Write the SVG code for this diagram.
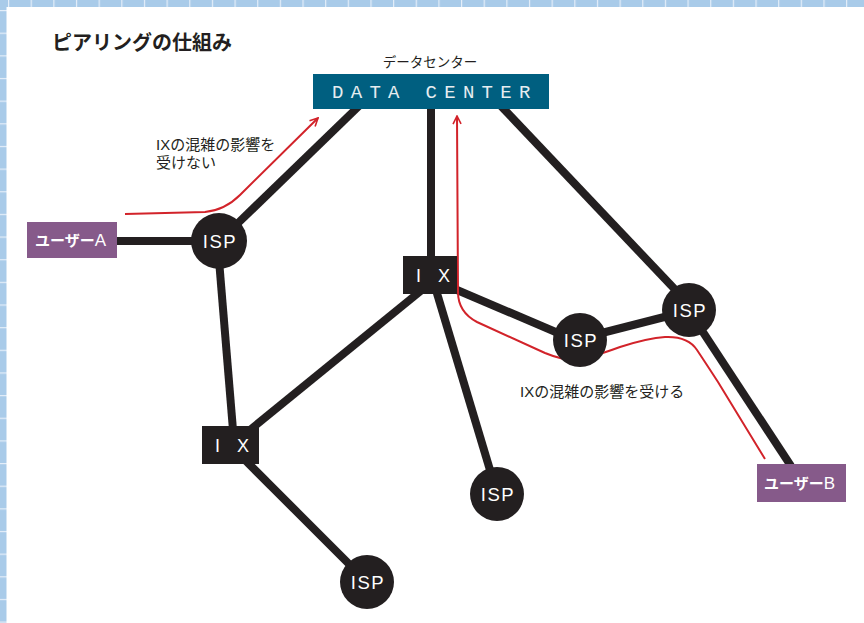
<svg xmlns="http://www.w3.org/2000/svg" width="864" height="623" viewBox="0 0 864 623">
<style>
.bg{fill:#ffffff}
.strip{fill:url(#gridH)}
.stripV{fill:url(#gridV)}
.link{stroke:#231f20;stroke-width:8;fill:none}
.route{stroke:#d2232a;stroke-width:2;fill:none}
.isp{fill:#231f20}
.ix{fill:#231f20}
.user{fill:#865a8a}
.dc{fill:#005f80}
.lbl{font-family:"Liberation Sans","Noto Sans CJK JP",sans-serif;fill:#231f20}
.wt{font-family:"Liberation Sans","Noto Sans CJK JP",sans-serif;fill:#ffffff}
</style>
<defs>
<pattern id="gridH" patternUnits="userSpaceOnUse" x="8" y="0" width="22.65" height="7">
<rect width="22.65" height="7" fill="#a9cbe9"/>
<rect width="1.2" height="7" fill="#e4eef9"/>
</pattern>
<pattern id="gridV" patternUnits="userSpaceOnUse" x="0" y="10" width="7" height="22.65">
<rect width="7" height="22.65" fill="#a9cbe9"/>
<rect width="7" height="1.2" fill="#e4eef9"/>
</pattern>
<marker id="arr" viewBox="0 0 10 10" refX="9" refY="5" markerWidth="5" markerHeight="5" orient="auto" markerUnits="strokeWidth">
<path d="M1,1 L9,5 L1,9" fill="none" stroke="#d2232a" stroke-width="1.6"/>
</marker>
</defs>
<rect class="bg" x="0" y="0" width="864" height="623"/>
<rect class="strip" x="0" y="0" width="864" height="7"/>
<rect class="stripV" x="0" y="0" width="6.5" height="623"/>

<text class="lbl" x="52" y="50" font-size="20" font-weight="bold">ピアリングの仕組み</text>

<g id="connectors">
<line class="link" x1="117" y1="241" x2="200" y2="241"/>
<line class="link" x1="236" y1="225" x2="360" y2="105"/>
<line class="link" x1="219" y1="260" x2="233" y2="430"/>
<line class="link" x1="245" y1="434" x2="428" y2="285"/>
<line class="link" x1="431" y1="105" x2="431" y2="260"/>
<line class="link" x1="450" y1="287" x2="565" y2="336"/>
<line class="link" x1="436" y1="290" x2="493" y2="480"/>
<line class="link" x1="590" y1="336" x2="680" y2="313"/>
<line class="link" x1="500" y1="105" x2="685" y2="300"/>
<line class="link" x1="695" y1="320" x2="791" y2="466"/>
<line class="link" x1="240" y1="455" x2="360" y2="575"/>
<path class="route" d="M125,214 L205,212 Q225,210 240,195 L318,118" marker-end="url(#arr)"/>
<path class="route" d="M765,459 L718,382 Q705,362 697,350 Q688,336 665,337 Q648,338 620,347 Q590,358 575,360 Q562,360 545,353 L477,322 Q458,312 458,292 L457,116" marker-end="url(#arr)"/>
</g>

<g id="datacenter">
<text class="lbl" x="430" y="67" font-size="13.5" text-anchor="middle">データセンター</text>
<rect class="dc" x="313" y="74" width="236" height="35"/>
<text x="332" y="98" font-family="'Liberation Mono',monospace" font-size="19" fill="#e6edf0" letter-spacing="7.3">DATA CENTER</text>
</g>

<g id="userA">
<rect class="user" x="27" y="222" width="90" height="36"/>
<text class="wt" x="35" y="246" font-size="15"><tspan font-weight="bold">ユーザー</tspan><tspan font-size="17">A</tspan></text>
</g>

<g id="userB">
<rect class="user" x="757" y="464" width="89" height="38"/>
<text class="wt" x="764" y="489" font-size="15"><tspan font-weight="bold">ユーザー</tspan><tspan font-size="17">B</tspan></text>
</g>

<g id="ispA">
<circle class="isp" cx="219" cy="241" r="28"/>
<text class="wt" x="220" y="247.5" font-size="18.5" text-anchor="middle" letter-spacing="1.5">ISP</text>
</g>

<g id="ispMid">
<circle class="isp" cx="580" cy="340" r="27"/>
<text class="wt" x="581" y="346.5" font-size="18.5" text-anchor="middle" letter-spacing="1.5">ISP</text>
</g>

<g id="ispRight">
<circle class="isp" cx="689" cy="310" r="27"/>
<text class="wt" x="690" y="316.5" font-size="18.5" text-anchor="middle" letter-spacing="1.5">ISP</text>
</g>

<g id="ispBottom">
<circle class="isp" cx="497" cy="494" r="27"/>
<text class="wt" x="498" y="500.5" font-size="18.5" text-anchor="middle" letter-spacing="1.5">ISP</text>
</g>

<g id="ispBottomLeft">
<circle class="isp" cx="367" cy="582" r="27"/>
<text class="wt" x="368" y="588.5" font-size="18.5" text-anchor="middle" letter-spacing="1.5">ISP</text>
</g>

<g id="ix1">
<rect class="ix" x="403" y="256" width="54" height="38"/>
<text class="wt" x="416" y="282" font-size="18" letter-spacing="6">I X</text>
</g>

<g id="ix2">
<rect class="ix" x="202" y="426" width="57" height="38"/>
<text class="wt" x="215" y="452" font-size="18" letter-spacing="6">I X</text>
</g>

<g id="labels">
<text class="lbl" x="156" y="150" font-size="15">IXの混雑の影響を</text>
<text class="lbl" x="156" y="168" font-size="15">受けない</text>
<text class="lbl" x="520" y="397" font-size="15">IXの混雑の影響を受ける</text>
</g>
</svg>
